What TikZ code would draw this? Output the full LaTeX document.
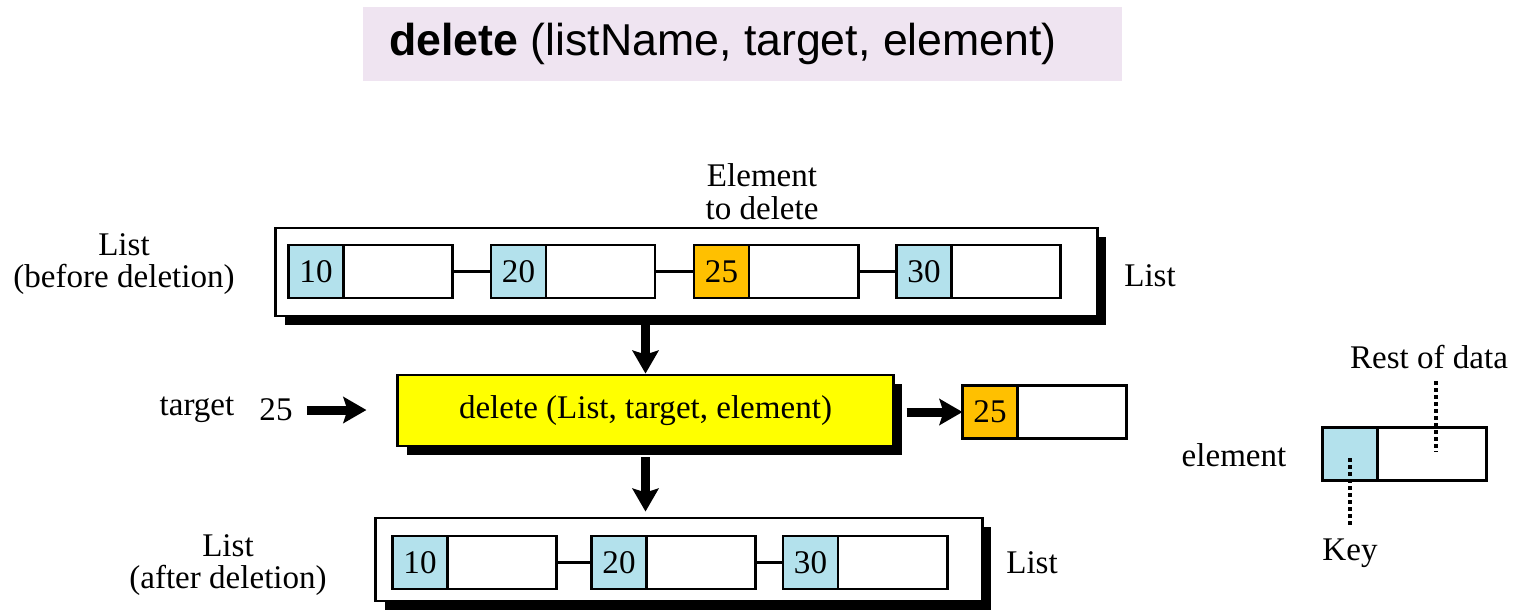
\documentclass[tikz,border=0pt]{standalone}
\usepackage{fontspec}
\setmainfont{Liberation Serif}
\newfontfamily\titlefont{Liberation Sans}
\usetikzlibrary{positioning, shadows, arrows.meta}
\definecolor{keyblue}{HTML}{B3E1EC}
\definecolor{delorange}{HTML}{FFC000}
\definecolor{funcyellow}{HTML}{FFFF00}
\definecolor{titlelav}{HTML}{EFE4F1}
\tikzset{
  keycell/.style={draw, line width=0.8pt, fill=keyblue, minimum width=0.55cm, minimum height=0.53cm, inner sep=0pt, outer sep=0pt},
  datacell/.style={draw, line width=0.8pt, fill=white, minimum width=1.09cm, minimum height=0.53cm, inner sep=0pt, outer sep=0pt, right=0pt of #1},
  listbox/.style={draw, line width=0.8pt, fill=white, drop shadow={shadow xshift=0.09cm, shadow yshift=-0.09cm, fill=black, opacity=1}},
  bigarrow/.style={line width=0.09cm, -{Stealth[length=0.23cm, width=0.26cm, inset=0.04cm]}},
  keydots/.style={line width=0.045cm, dash pattern=on 0.035cm off 0.035cm},
  link/.style={line width=0.8pt}
}

\begin{document}
\begin{tikzpicture}[x=0.01cm, y=-0.01cm, font=\fontsize{9.4}{9.3}\selectfont]
  \useasboundingbox (0,0) rectangle (1516,612);
  \node[fill=titlelav, minimum width=7.59cm, minimum height=0.73cm] (title) at (742.5,44) {};
  \node[font=\titlefont\fontsize{12.7}{14}\selectfont] (titletext) at (723,44) {\textbf{delete} (listName, target, element)};

  \node[listbox, minimum width=8.21cm, minimum height=0.88cm] (before) at (686.5,272) {};
  \node[keycell] (b1k) at (316,271.5) {10};
  \node[datacell=b1k] (b1d) {};
  \node[keycell] (b2k) at (518.5,271.5) {20};
  \node[datacell=b2k] (b2d) {};
  \node[keycell, fill=delorange] (b3k) at (721.5,271.5) {25};
  \node[datacell=b3k] (b3d) {};
  \node[keycell] (b4k) at (924,271.5) {30};
  \node[datacell=b4k] (b4d) {};
  \draw[link] (b1d) -- (b2k);
  \draw[link] (b2d) -- (b3k);
  \draw[link] (b3d) -- (b4k);
  \node[align=center] (todel) at (762,192) {Element\\to delete};
  \node[align=center] (beforelbl) at (124,264) {List\\(before deletion)};
  \node (beforename) at (1150,276) {List};

  \node[listbox, fill=funcyellow, minimum width=4.95cm, minimum height=0.71cm] (func) at (645.5,410.5) {delete (List, target, element)};
  \node (target) at (197,410) {target};
  \node (t25) at (276,410) {25};
  \draw[bigarrow, shorten <=0.02cm, shorten >=0.3cm] (t25) -- (t25 -| func.west);
  \draw[bigarrow] (func.north |- before.south) -- (func.north);

  \node[keycell, fill=delorange] (ek) at (990,412) {25};
  \node[datacell=ek] (ed) {};
  \draw[bigarrow, shorten <=0.12cm] (func.east |- ek.west) -- (ek.west);

  \node[listbox, minimum width=6.06cm, minimum height=0.83cm] (after) at (679,559.5) {};
  \node[keycell] (a1k) at (420,562.5) {10};
  \node[datacell=a1k] (a1d) {};
  \node[keycell] (a2k) at (619,562.5) {20};
  \node[datacell=a2k] (a2d) {};
  \node[keycell] (a3k) at (810.5,562.5) {30};
  \node[datacell=a3k] (a3d) {};
  \draw[link] (a1d) -- (a2k);
  \draw[link] (a2d) -- (a3k);
  \draw[bigarrow, shorten <=0.1cm, shorten >=0.05cm] (func.south) -- (func.south |- after.north);
  \node[align=center] (afterlbl) at (228,565) {List\\(after deletion)};
  \node (aftername) at (1032,563) {List};

  \node (elemlbl) at (1234,455) {element};
  \node[keycell] (lk) at (1350,454) {};
  \node[datacell=lk] (ld) {};
  \node (restlbl) at (1429,357) {Rest of data};
  \node (keylbl) at (1350,553) {Key};
  \coordinate (restend) at (1436,452);
  \coordinate (keyend) at (1350,458);
  \draw[keydots] (restend |- restlbl.south) -- (restend);
  \draw[keydots] (keyend) -- (keylbl.north);
\end{tikzpicture}
\end{document}
